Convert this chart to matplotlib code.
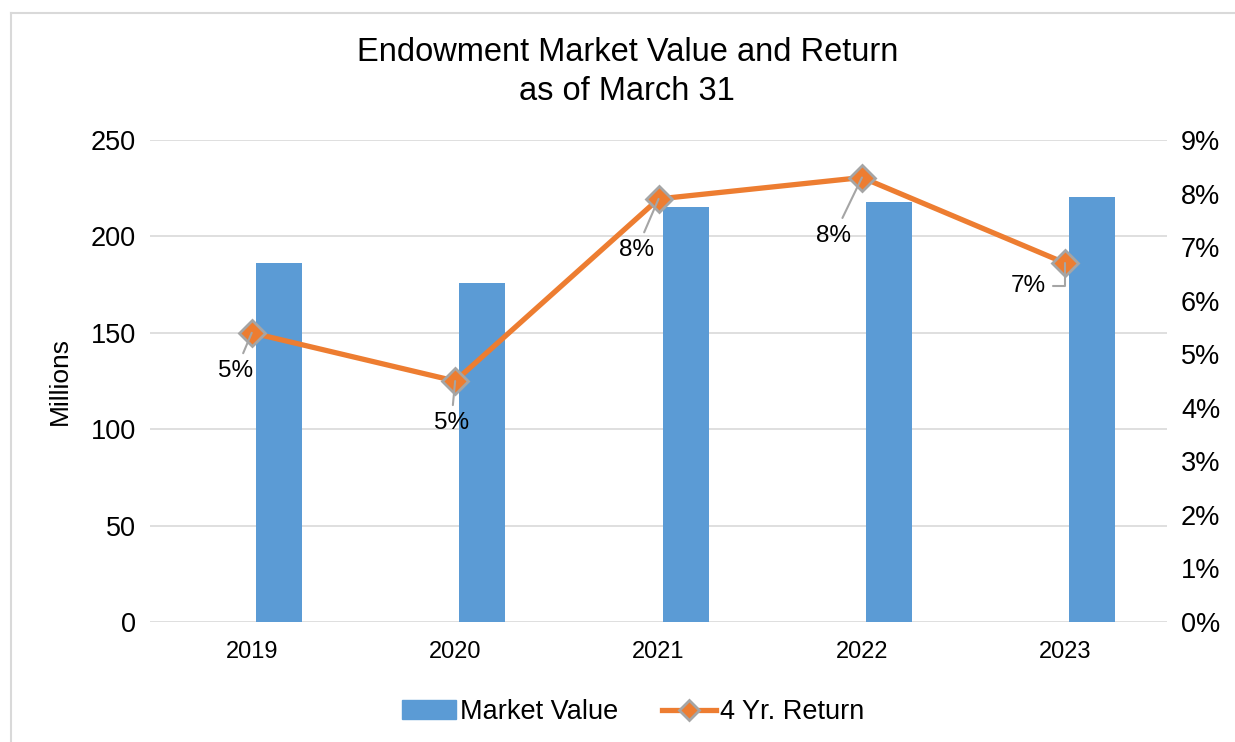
import matplotlib
matplotlib.use("Agg")
import matplotlib.pyplot as plt
from matplotlib.lines import Line2D
from matplotlib.ticker import FuncFormatter

years = ["2019", "2020", "2021", "2022", "2023"]
market_value = [186, 176, 215, 218, 220.5]      # millions
four_yr_return = [5.4, 4.5, 7.9, 8.3, 6.7]       # percent
return_labels = ["5%", "5%", "8%", "8%", "7%"]
# label offsets in pixels (dx, dy) from each point
label_offsets = [(-16, -38), (-4, -42), (-22, -51), (-28, -58), (-37, -23)]

BLUE = "#5B9BD5"
ORANGE = "#ED7D31"
GRID = "#D9D9D9"

plt.rcParams["font.family"] = ["Liberation Sans", "DejaVu Sans"]

fig = plt.figure(figsize=(12.35, 7.42), dpi=100)
ax = fig.add_axes([0.1215, 0.1617, 0.8235, 0.6496])
ax2 = ax.twinx()

x = list(range(len(years)))
ax.bar([i + 0.133 for i in x], market_value, width=0.226, color=BLUE, zorder=2,
       label="Market Value")
ax.set_xlim(-0.5, 4.5)
ax.set_ylim(0, 250)
ax.set_yticks(range(0, 251, 50))
ax.yaxis.grid(True, color=GRID, linewidth=1.2)
ax.set_axisbelow(True)
ax.set_xticks(x)
ax.set_xticklabels(years)
ax.tick_params(axis="both", length=0, labelsize=19.5, pad=10)
ax.tick_params(axis="x", labelsize=17, pad=14)
ax.set_ylabel("Millions", fontsize=19, labelpad=14)
for s in ax.spines.values():
    s.set_visible(False)
for s in ax2.spines.values():
    s.set_visible(False)

ax2.plot(x, four_yr_return, color=ORANGE, linewidth=3.8, marker="D", markersize=13,
         markerfacecolor=ORANGE, markeredgecolor="#A5A5A5", markeredgewidth=2,
         zorder=3, label="4 Yr. Return")
ax2.set_ylim(0, 9)
ax2.set_yticks(range(0, 10))
ax2.yaxis.set_major_formatter(FuncFormatter(lambda v, _: f"{v:.0f}%"))
ax2.tick_params(axis="y", length=0, labelsize=19.5, pad=10)

for i, (lab, (dx, dy)) in enumerate(zip(return_labels, label_offsets)):
    if i == 4:
        conn = "angle,angleA=0,angleB=90,rad=0"
    else:
        conn = "arc3"
    ax2.annotate(lab, xy=(x[i], four_yr_return[i]), xytext=(dx, dy),
                 textcoords="offset pixels", ha="center", va="center", fontsize=17.5,
                 arrowprops=dict(arrowstyle="-", color="#A5A5A5", lw=1.5,
                                 shrinkA=3, shrinkB=0, connectionstyle=conn),
                 zorder=5)

fig.text(0.508, 0.903, "Endowment Market Value and Return\nas of March 31",
         ha="center", va="center", fontsize=23.5, linespacing=1.3)

handles = [plt.Rectangle((0, 0), 1, 1, color=BLUE),
           Line2D([], [], color=ORANGE, linewidth=3.8, marker="D", markersize=10,
                  markerfacecolor=ORANGE, markeredgecolor="#A5A5A5", markeredgewidth=2)]
fig.legend(handles, ["Market Value", "4 Yr. Return"], loc="center",
           bbox_to_anchor=(0.5126, 0.04), ncol=2, frameon=False, fontsize=19.5,
           handlelength=2.0, handletextpad=0.15, columnspacing=1.6)

# outer chart border
fig.add_artist(Line2D([11 / 1235, 11 / 1235], [0, 1 - 13 / 742], color=GRID, lw=1.5))
fig.add_artist(Line2D([11 / 1235, 1], [1 - 13 / 742, 1 - 13 / 742], color=GRID, lw=1.5))

fig.savefig("out.png", dpi=100)
